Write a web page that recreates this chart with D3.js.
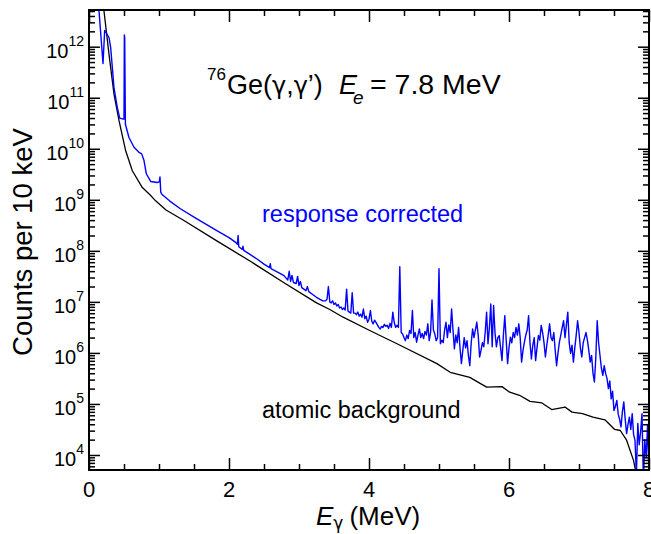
<!DOCTYPE html>
<html>
<head>
<meta charset="utf-8">
<script src="https://cdn.jsdelivr.net/npm/d3@7"></script>
<style>
  html, body { margin: 0; padding: 0; background: #fff; }
  svg { display: block; font-family: "Liberation Sans", Arial, Helvetica, sans-serif; }
</style>
</head>
<body>
<svg id="chart" width="651" height="534"></svg>
<script>
// ---------------- DATA ----------------
// x ticks (MeV)
const xMajorTicks = [0, 2, 4, 6, 8];
const xMinorTicks = [0.5, 1, 1.5, 2.5, 3, 3.5, 4.5, 5, 5.5, 6.5, 7, 7.5];
// y tick exponents (counts per 10 keV = 10^n)
const yMajorExponents = [4, 5, 6, 7, 8, 9, 10, 11, 12];

// Atomic background (black): energy in MeV, log10(counts)
const bgEnergy = [0.15, 0.214, 0.286, 0.357, 0.429, 0.524, 0.619, 0.762, 0.871, 0.952,
  1.10, 1.35, 1.82, 2.30, 2.78, 3.25, 3.44, 3.63, 4.01, 4.40, 4.97, 5.16, 5.44, 5.68,
  5.90, 6.01, 6.15, 6.30, 6.47, 6.61, 6.80, 6.90, 7.05, 7.20, 7.37, 7.51, 7.59, 7.68, 7.78, 7.85];
const bgLog10 = [13.3, 12.70, 11.85, 11.07, 10.55, 9.96, 9.57, 9.24, 9.10, 8.98,
  8.80, 8.60, 8.20, 7.80, 7.38, 6.98, 6.85, 6.70, 6.44, 6.18, 5.79, 5.62, 5.52, 5.33,
  5.34, 5.23, 5.17, 5.05, 5.02, 4.89, 4.94, 4.84, 4.81, 4.74, 4.69, 4.50, 4.48, 4.29, 3.89, 3.40];

// Response corrected (blue), smooth low-energy part: energy (MeV), log10(counts)
const corrEnergyLow = [0.10, 0.143, 0.200, 0.224, 0.286, 0.310, 0.357, 0.404, 0.439, 0.490,
  0.500, 0.505, 0.510, 0.520, 0.571, 0.643, 0.714, 0.753, 0.786, 0.819, 0.881, 0.976,
  1.005, 1.014, 1.025, 1.04, 1.15, 1.30, 1.50, 1.82, 2.00, 2.10, 2.12, 2.13, 2.14, 2.19,
  2.20, 2.21, 2.30, 2.40, 2.50, 2.58, 2.59, 2.60, 2.70, 2.78, 2.80, 2.84, 2.86, 2.88,
  2.90, 2.92, 2.96, 2.98, 3.00, 3.02, 3.04, 3.10, 3.12, 3.14, 3.20, 3.25, 3.30, 3.34, 3.38];
const corrLog10Low = [13.3, 12.70, 11.67, 12.32, 12.18, 11.98, 11.20, 10.81, 10.60, 10.58,
  10.58, 12.23, 12.18, 10.48, 10.22, 10.03, 9.93, 9.90, 9.77, 9.51, 9.36, 9.34,
  9.35, 9.45, 9.15, 9.11, 8.98, 8.83, 8.66, 8.40, 8.26, 8.16, 8.13, 8.30, 8.08, 8.03,
  8.09, 8.01, 7.93, 7.84, 7.74, 7.67, 7.75, 7.65, 7.58, 7.52, 7.49, 7.43, 7.60, 7.40,
  7.52, 7.38, 7.36, 7.50, 7.32, 7.40, 7.28, 7.22, 7.30, 7.20, 7.14, 7.09, 7.05, 7.02, 7.02];

// Response corrected (blue), high-energy part in 20 keV bins starting at 3.40 MeV: log10(counts)
const corrBinStart = 3.40;
const corrBinWidth = 0.02;
const corrLog10High = [
  7.05, 7.30, 7.00, 6.98, 7.02, 6.95, 6.98, 6.92, 6.95, 6.88,
  6.90, 6.85, 6.88, 6.84, 7.25, 6.82, 6.80, 6.78, 7.18, 6.78,
  6.78, 6.75, 6.80, 6.72, 6.76, 6.70, 6.86, 6.67, 6.72, 6.60,
  6.66, 6.83, 6.62, 6.57, 6.64, 6.60, 6.55, 6.50, 6.47, 6.52,
  6.50, 6.56, 6.52, 6.54, 6.48, 6.58, 6.50, 6.80, 6.60, 6.50,
  6.54, 6.50, 7.69, 6.40, 6.37, 6.30, 6.24, 6.35, 6.28, 6.44,
  6.38, 6.83, 6.30, 6.40, 6.21, 6.35, 6.47, 6.30, 6.38, 6.28,
  6.42, 6.35, 6.57, 6.24, 6.40, 7.04, 6.45, 6.37, 6.24, 6.30,
  7.65, 6.18, 6.25, 6.20, 6.45, 6.60, 6.30, 6.55, 6.40, 6.86,
  6.45, 6.08, 6.35, 6.20, 6.50, 6.10, 5.79, 6.05, 6.30, 6.10,
  6.24, 5.95, 5.75, 6.20, 6.47, 6.30, 6.45, 6.60, 6.35, 5.92,
  6.05, 6.20, 6.12, 6.40, 6.80, 6.18, 6.50, 6.96, 6.12, 6.93,
  6.40, 6.12, 6.30, 6.34, 6.10, 5.85, 6.35, 6.73, 6.25, 5.79,
  6.10, 6.31, 6.20, 6.40, 6.30, 6.50, 6.35, 6.57, 6.30, 5.82,
  6.05, 6.21, 6.35, 6.45, 6.73, 6.20, 5.88, 6.15, 6.30, 5.85,
  6.10, 6.34, 6.25, 6.54, 6.40, 6.20, 5.92, 6.15, 6.35, 6.57,
  6.30, 6.24, 6.40, 6.05, 5.75, 6.00, 6.21, 6.35, 6.50, 6.63,
  6.30, 6.55, 6.80, 6.20, 5.99, 6.15, 5.82, 6.10, 6.35, 6.63,
  6.40, 6.10, 5.92, 6.20, 6.30, 6.40, 6.25, 6.05, 5.82, 5.95,
  5.60, 5.43, 5.90, 6.63, 6.20, 5.95, 5.70, 5.56, 5.75, 5.60,
  5.50, 5.30, 5.45, 5.10, 5.25, 4.87, 4.95, 5.07, 4.80, 4.70,
  4.55, 4.85, 5.04, 4.70, 4.42, 4.60, 4.74, 4.50, 4.81, 4.40,
  4.29, 3.60, 4.62, 4.20, 4.45, 4.81, 3.50, 4.30, 3.95, 4.60,
  3.60];

// ---------------- LAYOUT ----------------
const plotLeft = 89, plotRight = 649, plotTop = 10, plotBottom = 470;
const BLUE = "#0000ff";

const svg = d3.select("#chart");

const x = d3.scaleLinear().domain([0, 8]).range([plotLeft, plotRight]);
const y = d3.scaleLog().domain([Math.pow(10, 3.706), Math.pow(10, 12.719)]).range([plotBottom, plotTop]);

// build series
const bgData = bgEnergy.map((e, i) => ({ e, v: Math.pow(10, bgLog10[i]) }));
const corrData = corrEnergyLow.map((e, i) => ({ e, v: Math.pow(10, corrLog10Low[i]) }))
  .concat(corrLog10High.map((l, i) => ({ e: corrBinStart + i * corrBinWidth, v: Math.pow(10, l) })));

// clip
svg.append("defs").append("clipPath").attr("id", "plotclip")
  .append("rect").attr("x", plotLeft).attr("y", plotTop)
  .attr("width", plotRight - plotLeft).attr("height", plotBottom - plotTop);

const line = d3.line().x(d => x(d.e)).y(d => y(d.v));

const plot = svg.append("g").attr("clip-path", "url(#plotclip)");
plot.append("path").datum(bgData).attr("d", line)
  .attr("fill", "none").attr("stroke", "#000").attr("stroke-width", 1.3).attr("stroke-linejoin", "round");
plot.append("path").datum(corrData).attr("d", line)
  .attr("fill", "none").attr("stroke", BLUE).attr("stroke-width", 1.4).attr("stroke-linejoin", "round");

// ---------------- AXES ----------------
const yMinorVals = [];
for (let k = 3; k <= 12; k++) for (let m = 2; m <= 9; m++) {
  const v = m * Math.pow(10, k);
  if (v >= y.domain()[0] && v <= y.domain()[1]) yMinorVals.push(v);
}
const yMajorVals = yMajorExponents.map(n => Math.pow(10, n));

function styleAxis(g) {
  g.select(".domain").remove();
  g.selectAll(".tick line").attr("stroke", "#000").attr("stroke-width", 1.5);
  g.selectAll(".tick text").remove();
}

// left
svg.append("g").attr("transform", `translate(${plotLeft},0)`)
  .call(d3.axisLeft(y).tickValues(yMajorVals).tickSizeInner(-11).tickSizeOuter(0).tickFormat(() => ""))
  .call(styleAxis);
svg.append("g").attr("transform", `translate(${plotLeft},0)`)
  .call(d3.axisLeft(y).tickValues(yMinorVals).tickSizeInner(-6).tickSizeOuter(0).tickFormat(() => ""))
  .call(styleAxis);
// right
svg.append("g").attr("transform", `translate(${plotRight},0)`)
  .call(d3.axisRight(y).tickValues(yMajorVals).tickSizeInner(-11).tickSizeOuter(0).tickFormat(() => ""))
  .call(styleAxis);
svg.append("g").attr("transform", `translate(${plotRight},0)`)
  .call(d3.axisRight(y).tickValues(yMinorVals).tickSizeInner(-6).tickSizeOuter(0).tickFormat(() => ""))
  .call(styleAxis);
// bottom
svg.append("g").attr("transform", `translate(0,${plotBottom})`)
  .call(d3.axisBottom(x).tickValues(xMajorTicks).tickSizeInner(-12).tickSizeOuter(0).tickFormat(() => ""))
  .call(styleAxis);
svg.append("g").attr("transform", `translate(0,${plotBottom})`)
  .call(d3.axisBottom(x).tickValues(xMinorTicks).tickSizeInner(-6).tickSizeOuter(0).tickFormat(() => ""))
  .call(styleAxis);
// top
svg.append("g").attr("transform", `translate(0,${plotTop})`)
  .call(d3.axisTop(x).tickValues(xMajorTicks).tickSizeInner(-12).tickSizeOuter(0).tickFormat(() => ""))
  .call(styleAxis);
svg.append("g").attr("transform", `translate(0,${plotTop})`)
  .call(d3.axisTop(x).tickValues(xMinorTicks).tickSizeInner(-6).tickSizeOuter(0).tickFormat(() => ""))
  .call(styleAxis);

// frame
svg.append("rect").attr("x", plotLeft).attr("y", plotTop)
  .attr("width", plotRight - plotLeft).attr("height", plotBottom - plotTop)
  .attr("fill", "none").attr("stroke", "#000").attr("stroke-width", 2);

// y tick labels: 10^n
const ylab = svg.append("g");
yMajorExponents.forEach(n => {
  const yy = y(Math.pow(10, n));
  const t = ylab.append("text").attr("x", 84).attr("y", yy + 11.5).attr("text-anchor", "end")
    .attr("fill", "#000").attr("font-size", 20);
  t.append("tspan").text("10");
  t.append("tspan").attr("font-size", 14).attr("dy", -12).text(String(n));
});

// x tick labels
svg.append("g").selectAll("text").data(xMajorTicks).join("text")
  .attr("x", d => x(d)).attr("y", 497).attr("text-anchor", "middle")
  .attr("font-size", 22).attr("fill", "#000").text(d => d);

// axis titles
svg.append("text").attr("transform", "translate(32,242) rotate(-90)")
  .attr("text-anchor", "middle").attr("font-size", 27.5).attr("fill", "#000")
  .text("Counts per 10 keV");

const xt = svg.append("text").attr("x", 316).attr("y", 525).attr("font-size", 26).attr("fill", "#000");
xt.append("tspan").attr("font-style", "italic").text("E");
xt.append("tspan").attr("font-size", 17).attr("dy", 4).attr("font-family", "DejaVu Sans").text("γ");
xt.append("tspan").attr("dy", -4).attr("dx", 6).text("(MeV)");

// title (one text element)
const tg = svg.append("text").attr("x", 207).attr("y", 93.5).attr("font-size", 27).attr("fill", "#000");
tg.append("tspan").attr("font-size", 17).attr("dy", -14).text("76");
tg.append("tspan").attr("dy", 14).attr("dx", 1).text("Ge(");
tg.append("tspan").attr("font-family", "DejaVu Sans").attr("font-size", 24).text("γ");
tg.append("tspan").text(",");
tg.append("tspan").attr("font-family", "DejaVu Sans").attr("font-size", 24).text("γ");
tg.append("tspan").text("’)");
tg.append("tspan").attr("x", 339).attr("font-style", "italic").text("E");
tg.append("tspan").attr("font-style", "italic").attr("font-size", 19).attr("dy", 10.5).attr("dx", -4).text("e");
tg.append("tspan").attr("x", 370).attr("dy", -10.5).attr("font-size", 28.5).text("= 7.8 MeV");

// annotations
svg.append("text").attr("x", 262).attr("y", 222).attr("font-size", 23.5).attr("fill", BLUE).text("response corrected");
svg.append("text").attr("x", 262).attr("y", 418).attr("font-size", 23.5).attr("fill", "#000").text("atomic background");
</script>
</body>
</html>
